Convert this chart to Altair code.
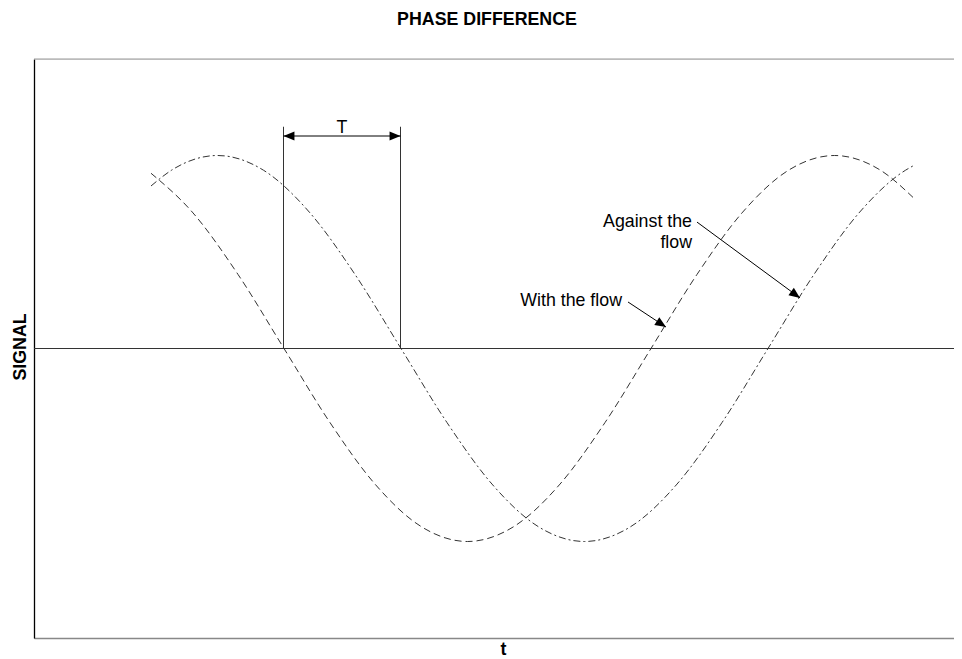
import altair as alt
import pandas as pd

# ---- data (x in time units, signal in amplitude units) ----
T_WITH = [117, 158.25, 204.1, 250, 295.9, 341.75, 387.6, 433.5, 479.4, 525.25,
          571.1, 617, 662.9, 708.75, 754.6, 800.5, 846.4, 879]
S_WITH = [0.908, 0.707, 0.383, 0.0, -0.383, -0.707, -0.924, -1.0, -0.924, -0.707,
          -0.383, 0.0, 0.383, 0.707, 0.924, 1.0, 0.924, 0.783]

T_AGAINST = [117, 137.6, 183.5, 229.4, 275.25, 321.1, 367, 412.9, 458.75, 504.6,
             550.5, 596.4, 642.25, 688.1, 734, 779.9, 825.75, 871.6, 879]
S_AGAINST = [0.842, 0.924, 1.0, 0.924, 0.707, 0.383, 0.0, -0.383, -0.707, -0.924,
             -1.0, -0.924, -0.707, -0.383, 0.0, 0.383, 0.707, 0.924, 0.946]

X_DOMAIN = [0, 920]
Y_DOMAIN = [-1.5, 1.5]

# T interval (between the two zero crossings)
T_START, T_END = 249.5, 366.5

LABELS = ["Against the", "flow", "With the flow"]

FONT = "Liberation Sans"
FS = 17.8

xs = alt.Scale(domain=X_DOMAIN, nice=False, zero=False)
ys = alt.Scale(domain=Y_DOMAIN, nice=False, zero=False)


def X(field="t"):
    return alt.X(f"{field}:Q", scale=xs, title="t")


def Y(field="signal"):
    return alt.Y(f"{field}:Q", scale=ys, title="SIGNAL")


with_df = pd.DataFrame({"t": T_WITH, "signal": S_WITH})
against_df = pd.DataFrame({"t": T_AGAINST, "signal": S_AGAINST})

line_with = alt.Chart(with_df).mark_line(
    color="#333333", strokeWidth=1, strokeDash=[7, 4], interpolate="monotone"
).encode(x=X(), y=Y())

line_against = alt.Chart(against_df).mark_line(
    color="#333333", strokeWidth=1, strokeDash=[7, 3, 2, 3], interpolate="monotone"
).encode(x=X(), y=Y())

# frame top line and zero line
frame_df = pd.DataFrame({"t": [X_DOMAIN[0], X_DOMAIN[0]], "t2": [X_DOMAIN[1], X_DOMAIN[1]],
                         "signal": [Y_DOMAIN[1], 0.0], "col": ["#999999", "#333333"]})
frame = alt.Chart(frame_df).mark_rule(strokeWidth=1.2).encode(
    x=X(), x2="t2:Q", y=Y(),
    color=alt.Color("col:N", scale=None),
)

# T bracket: vertical lines
vlines_df = pd.DataFrame({"t": [T_START, T_END], "signal": [0.0, 0.0], "s2": [1.149, 1.149]})
vlines = alt.Chart(vlines_df).mark_rule(color="#333333", strokeWidth=1).encode(
    x=X(), y=Y(), y2="s2:Q",
)

# annotation lines (T arrow, with-flow arrow, against-flow arrow)
arrows_df = pd.DataFrame({
    "t": [T_START, 594, 663],
    "signal": [1.101, 0.241, 0.655],
    "t2": [T_END, 632, 766],
    "s2": [1.101, 0.111, 0.262],
})
arrow_lines = alt.Chart(arrows_df).mark_rule(color="black", strokeWidth=1).encode(
    x=X(), x2="t2:Q", y=Y(), y2="s2:Q",
)

heads_df = pd.DataFrame({
    "t": [T_START, T_END, 632, 766],
    "signal": [1.101, 1.101, 0.111, 0.262],
    "ang": [180, 0, 33, 36],
})
heads = alt.Chart(heads_df).mark_point(
    shape="M0,0L-1,-0.42L-1,0.42Z", filled=True, color="black", opacity=1,
    strokeWidth=0, size=480,
).encode(
    x=X(), y=Y(),
    angle=alt.Angle("ang:Q", scale=None),
)

# texts
t_label = alt.Chart(pd.DataFrame({"t": [308], "signal": [1.117], "txt": ["T"]})).mark_text(
    font=FONT, fontSize=FS, color="black", align="center", baseline="alphabetic"
).encode(x=X(), y=Y(), text="txt:N")

labels_df = pd.DataFrame({"t": [658, 658, 588], "signal": [0.631, 0.521, 0.220], "txt": LABELS})
labels = alt.Chart(labels_df).mark_text(
    font=FONT, fontSize=FS, color="black", align="right", baseline="alphabetic"
).encode(x=X(), y=Y(), text="txt:N")

chart = alt.layer(
    line_with, line_against, frame, vlines, arrow_lines, heads, t_label, labels
).properties(
    width=920, height=579,
    title=alt.TitleParams("PHASE DIFFERENCE", font=FONT, fontSize=FS, fontWeight="bold",
                          anchor="middle", dx=-7, offset=16, baseline="alphabetic",
                          color="black"),
    autosize=alt.AutoSizeParams(type="none"),
    padding={"left": 26, "top": 51, "right": 0, "bottom": 20},
).configure_view(stroke=None).configure(background="white").configure_axisX(
    labels=False, ticks=False, grid=False, domainColor="#888888", domainWidth=1.5,
    titleFont=FONT, titleFontSize=FS, titleFontWeight="bold", titleColor="black",
    titleX=469, titleY=16, titleBaseline="alphabetic", titleAlign="center",
).configure_axisY(
    labels=False, ticks=False, grid=False, domainColor="black", domainWidth=1.3,
    titleFont=FONT, titleFontSize=FS, titleFontWeight="bold", titleColor="black",
    titleX=-9, titleY=287.5, titleBaseline="alphabetic", titleAlign="center",
    titleAngle=270,
)

chart.save("out.html", embed_options={"renderer": "svg", "actions": False})
